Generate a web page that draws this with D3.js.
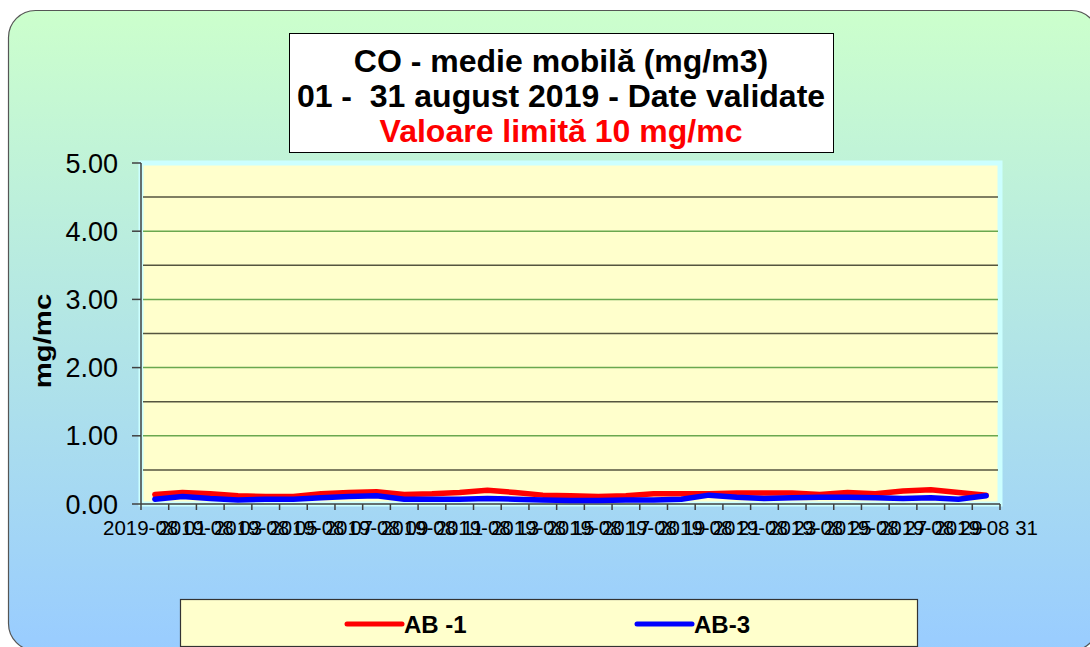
<!DOCTYPE html>
<html>
<head>
<meta charset="utf-8">
<script src="https://cdn.jsdelivr.net/npm/d3@7"></script>
<style>
  body { margin: 0; background: #ffffff; }
  svg { display: block; font-family: "Liberation Sans", Arial, sans-serif; }
</style>
</head>
<body>
<div id="chart"></div>
<script>
// Date
const days = ['2019-08 01', '2019-08 02', '2019-08 03', '2019-08 04', '2019-08 05', '2019-08 06',
              '2019-08 07', '2019-08 08', '2019-08 09', '2019-08 10', '2019-08 11', '2019-08 12',
              '2019-08 13', '2019-08 14', '2019-08 15', '2019-08 16', '2019-08 17', '2019-08 18',
              '2019-08 19', '2019-08 20', '2019-08 21', '2019-08 22', '2019-08 23', '2019-08 24',
              '2019-08 25', '2019-08 26', '2019-08 27', '2019-08 28', '2019-08 29', '2019-08 30',
              '2019-08 31'];
const dayLabels = ['2019-08 01', '2019-08 03', '2019-08 05', '2019-08 07', '2019-08 09', '2019-08 11',
                   '2019-08 13', '2019-08 15', '2019-08 17', '2019-08 19', '2019-08 21', '2019-08 23',
                   '2019-08 25', '2019-08 27', '2019-08 29', '2019-08 31'];
const ab1 = [0.14, 0.17, 0.15, 0.12, 0.11, 0.11, 0.15, 0.17, 0.18, 0.14, 0.15, 0.17, 0.20, 0.17, 0.13, 0.12,
             0.11, 0.12, 0.15, 0.15, 0.15, 0.16, 0.16, 0.16, 0.14, 0.17, 0.15, 0.19, 0.21, 0.17, 0.13];
const ab3 = [0.07, 0.11, 0.08, 0.06, 0.07, 0.07, 0.09, 0.11, 0.12, 0.07, 0.07, 0.07, 0.08, 0.07, 0.06, 0.05,
             0.05, 0.06, 0.06, 0.07, 0.13, 0.10, 0.08, 0.09, 0.10, 0.10, 0.09, 0.08, 0.09, 0.07, 0.12];
const seriesNames = ['AB -1', 'AB-3'];
const seriesColors = ['#ff0000', '#0000ff'];
const yTicks = [0, 1, 2, 3, 4, 5];
const yGrid = [0.5, 1, 1.5, 2, 2.5, 3, 3.5, 4, 4.5];
const titleLines = ['CO - medie mobilă (mg/m3)', '01 -  31 august 2019 - Date validate', 'Valoare limită 10 mg/mc'];

const width = 1090, height = 647;
const plot = { left: 141, right: 1000, top: 163, bottom: 504 };

const svg = d3.select('#chart').append('svg')
    .attr('width', width)
    .attr('height', height);

// Fundal cu degrade
const grad = svg.append('defs').append('linearGradient')
    .attr('id', 'bg').attr('x1', 0).attr('y1', 0).attr('x2', 0).attr('y2', 1);
grad.append('stop').attr('offset', '0%').attr('stop-color', '#ccffcc');
grad.append('stop').attr('offset', '100%').attr('stop-color', '#99ccff');

svg.append('rect')
    .attr('x', 8.5).attr('y', 10.5)
    .attr('width', 1090).attr('height', 640)
    .attr('rx', 27).attr('ry', 27)
    .attr('fill', 'url(#bg)')
    .attr('stroke', '#555555')
    .attr('stroke-width', 1.2);

// Scale
const x = d3.scaleBand().domain(days).range([plot.left, plot.right]).padding(0);
const xEdge = d3.scaleLinear().domain([0, days.length]).range([plot.left, plot.right]);
const y = d3.scaleLinear().domain([0, 5]).range([plot.bottom, plot.top]);

// Zona graficului
svg.append('rect')
    .attr('x', plot.left).attr('y', plot.top)
    .attr('width', plot.right - plot.left).attr('height', plot.bottom - plot.top)
    .attr('fill', '#ffffcc')
    .attr('stroke', '#ccffff')
    .attr('stroke-width', 5);

// Linii de grila
svg.append('g').selectAll('line')
    .data(yGrid)
    .enter().append('line')
    .attr('x1', plot.left + 2).attr('x2', plot.right - 2)
    .attr('y1', d => y(d)).attr('y2', d => y(d))
    .attr('stroke', d => Number.isInteger(d) ? '#6aa84f' : '#55553f')
    .attr('stroke-width', 1.5);

// Axa Y
svg.append('line')
    .attr('x1', plot.left).attr('x2', plot.left)
    .attr('y1', plot.top).attr('y2', plot.bottom)
    .attr('stroke', '#404040').attr('stroke-width', 1.5);

svg.append('g').selectAll('line')
    .data(yTicks)
    .enter().append('line')
    .attr('x1', plot.left - 9).attr('x2', plot.left)
    .attr('y1', d => y(d)).attr('y2', d => y(d))
    .attr('stroke', '#404040').attr('stroke-width', 1.5);

svg.append('g').selectAll('text')
    .data(yTicks)
    .enter().append('text')
    .attr('x', 118)
    .attr('y', d => y(d) + 9.5)
    .attr('text-anchor', 'end')
    .style('font-size', '27px')
    .attr('fill', '#000')
    .text(d => d.toFixed(2));

svg.append('text')
    .attr('transform', 'translate(51, 341) rotate(-90) scale(1.22, 1)')
    .attr('text-anchor', 'middle')
    .style('font-size', '24px')
    .style('font-weight', 'bold')
    .text('mg/mc');

// Axa X
svg.append('line')
    .attr('x1', plot.left).attr('x2', plot.right)
    .attr('y1', plot.bottom).attr('y2', plot.bottom)
    .attr('stroke', '#404040').attr('stroke-width', 1.5);

svg.append('g').selectAll('line')
    .data(d3.range(days.length + 1))
    .enter().append('line')
    .attr('x1', d => xEdge(d)).attr('x2', d => xEdge(d))
    .attr('y1', plot.bottom).attr('y2', plot.bottom + 6)
    .attr('stroke', '#404040').attr('stroke-width', 1.5);

const xAxis = d3.axisBottom(x).tickValues(dayLabels).tickSize(0).tickPadding(0);
const gx = svg.append('g')
    .attr('transform', `translate(0, ${plot.bottom})`)
    .call(xAxis);
gx.select('.domain').remove();
gx.selectAll('text')
    .attr('y', 31)
    .attr('dy', 0)
    .attr('fill', '#000')
    .style('font-size', '20.5px')
    .style('font-family', '"Liberation Sans", Arial, sans-serif');

// Serii
const line = d3.line()
    .x((d, i) => x(days[i]) + x.bandwidth() / 2)
    .y(d => y(d));

[ab1, ab3].forEach((s, k) => {
    svg.append('path')
        .datum(s)
        .attr('d', line)
        .attr('fill', 'none')
        .attr('stroke', seriesColors[k])
        .attr('stroke-width', 5.5)
        .attr('stroke-linejoin', 'round')
        .attr('stroke-linecap', 'round');
});

// Titlu
svg.append('rect')
    .attr('x', 289.5).attr('y', 33.5)
    .attr('width', 544).attr('height', 119)
    .attr('fill', '#ffffff')
    .attr('stroke', '#000000')
    .attr('stroke-width', 1);

svg.append('g').selectAll('text')
    .data(titleLines)
    .enter().append('text')
    .attr('x', 561)
    .attr('y', (d, i) => 72 + i * 35)
    .attr('text-anchor', 'middle')
    .attr('fill', (d, i) => i === 2 ? '#ff0000' : '#000000')
    .style('font-size', '32px')
    .style('font-weight', 'bold')
    .style('white-space', 'pre')
    .text(d => d);

// Legenda
svg.append('rect')
    .attr('x', 180.5).attr('y', 599.5)
    .attr('width', 737).attr('height', 47)
    .attr('fill', '#ffffcc')
    .attr('stroke', '#333333')
    .attr('stroke-width', 1.2);

const legendX = [347, 637];
const legend = svg.append('g').selectAll('g')
    .data(seriesNames)
    .enter().append('g')
    .attr('transform', (d, i) => `translate(${legendX[i]}, 624)`);

legend.append('line')
    .attr('x1', 0).attr('x2', 55)
    .attr('y1', 0).attr('y2', 0)
    .attr('stroke', (d, i) => seriesColors[i])
    .attr('stroke-width', 5)
    .attr('stroke-linecap', 'round');

legend.append('text')
    .attr('x', 57)
    .attr('y', 8.5)
    .style('font-size', '24px')
    .style('font-weight', 'bold')
    .text(d => d);
</script>
</body>
</html>
